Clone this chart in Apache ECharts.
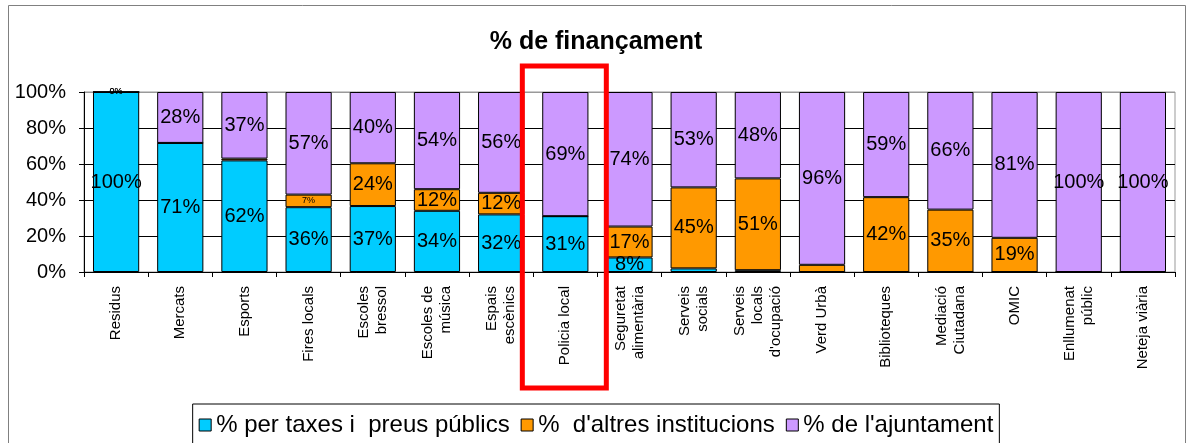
<!DOCTYPE html>
<html lang="ca">
  <head>
    <meta charset="UTF-8" />
    <title>% de finançament</title>
    <style>
      html, body { margin: 0; padding: 0; background: #fff; }
      #main { width: 1192px; height: 443px; }
    </style>
  </head>
  <body>
    <div id="main"></div>
    <script src="https://cdn.jsdelivr.net/npm/echarts@6/dist/echarts.min.js"></script>
    <script>
      var categories = [
        "Residus", "Mercats", "Esports", "Fires locals", "Escoles\nbressol",
        "Escoles de\nmúsica", "Espais\nescènics", "Policia local",
        "Seguretat\nalimentària", "Serveis\nsocials", "Serveis\nlocals\nd'ocupació",
        "Verd Urbà", "Biblioteques", "Mediació\nCiutadana", "OMIC",
        "Enllumenat\npúblic", "Neteja viària"
      ];
      // valors llegits del gràfic (%)
      var taxes = [100, 71, 62, 36, 37, 34, 32, 31, 8, 2, 1, 0, 0, 0, 0, 0, 0];
      var altres = [0, 0, 1, 7, 24, 12, 12, 0, 17, 45, 51, 4, 42, 35, 19, 0, 0];
      var ajuntament = [0, 28, 37, 57, 40, 54, 56, 69, 74, 53, 48, 96, 59, 66, 81, 100, 100];
      var seriesNames = ["% per taxes i  preus públics", "%  d'altres institucions", "% de l'ajuntament"];
      var colors = ["#00ccff", "#ff9900", "#cc99ff"];
      var yTicks = [0, 20, 40, 60, 80, 100];

      var raw = [taxes, altres, ajuntament];
      var font = "Liberation Sans, Arial, sans-serif";

      // gràfic apilat al 100%: cada columna es normalitza a la seva suma
      function share(arr, i) {
        var total = taxes[i] + altres[i] + ajuntament[i];
        return (arr[i] / total) * 100;
      }

      var myChart = echarts.init(document.getElementById("main"));

      var series = raw.map(function (arr, s) {
        return {
          name: seriesNames[s],
          type: "bar",
          stack: "total",
          barCategoryGap: "28%",
          data: arr.map(function (v, i) { return share(arr, i); }),
          itemStyle: { color: colors[s], borderColor: "#000", borderWidth: 1 },
          label: {
            show: true,
            position: "inside",
            color: "#000",
            fontSize: 20,
            fontFamily: font,
            formatter: function (p) {
              var v = raw[p.seriesIndex][p.dataIndex];
              if (categories[p.dataIndex] === "Residus" && v === 0) return "{s|0%}";
              if (v < 5) return "";
              if (v < 8) return "{s|" + v + "%}";
              return v + "%";
            },
            rich: { s: { fontSize: 9, fontFamily: font, color: "#000" } }
          }
        };
      });

      var option = {
        animation: false,
        title: {
          text: "% de finançament",
          left: "center",
          top: 25,
          textStyle: { fontSize: 25, fontWeight: "bold", color: "#000", fontFamily: font }
        },
        legend: {
          data: seriesNames,
          left: "center",
          top: 404,
          icon: "rect",
          itemWidth: 12,
          itemHeight: 12,
          itemGap: 11,
          padding: [9, 6, 12, 6],
          borderColor: "#000",
          borderWidth: 1,
          itemStyle: { borderColor: "#000", borderWidth: 1 },
          textStyle: { fontSize: 24, color: "#000", fontFamily: font }
        },
        grid: {
          left: 84,
          right: 17,
          top: 92,
          bottom: 171,
          show: true,
          borderColor: "#999",
          borderWidth: 1
        },
        xAxis: {
          type: "category",
          data: categories,
          axisLine: { lineStyle: { color: "#000" } },
          axisTick: { show: true, length: 5, lineStyle: { color: "#000" } },
          axisLabel: {
            interval: 0,
            rotate: 90,
            margin: 14,
            fontSize: 15,
            lineHeight: 18,
            color: "#000",
            fontFamily: font
          }
        },
        yAxis: {
          type: "value",
          min: yTicks[0],
          max: yTicks[yTicks.length - 1],
          interval: yTicks[1] - yTicks[0],
          axisLine: { show: true, lineStyle: { color: "#000" } },
          axisTick: { show: true, length: 5, lineStyle: { color: "#000" } },
          axisLabel: { formatter: "{value}%", margin: 18, fontSize: 20, color: "#000", fontFamily: font },
          splitLine: {
            lineStyle: { color: ["#000", "#000", "#000", "#000", "#000", "#999"], width: 1 }
          }
        },
        series: series
      };

      myChart.setOption(option);

      // marc exterior i requadre vermell al voltant de "Policia local"
      var cx = myChart.convertToPixel({ xAxisIndex: 0 }, "Policia local");
      myChart.setOption({
        graphic: [
          {
            type: "rect",
            shape: { x: 8.5, y: 5.5, width: 1177, height: 470 },
            style: { fill: "none", stroke: "#808080", lineWidth: 1 },
            silent: true
          },
          {
            type: "rect",
            z: 100,
            shape: { x: cx - 43, y: 66, width: 84, height: 322 },
            style: { fill: "none", stroke: "#ff0000", lineWidth: 5 },
            silent: true
          }
        ]
      });
    </script>
  </body>
</html>
